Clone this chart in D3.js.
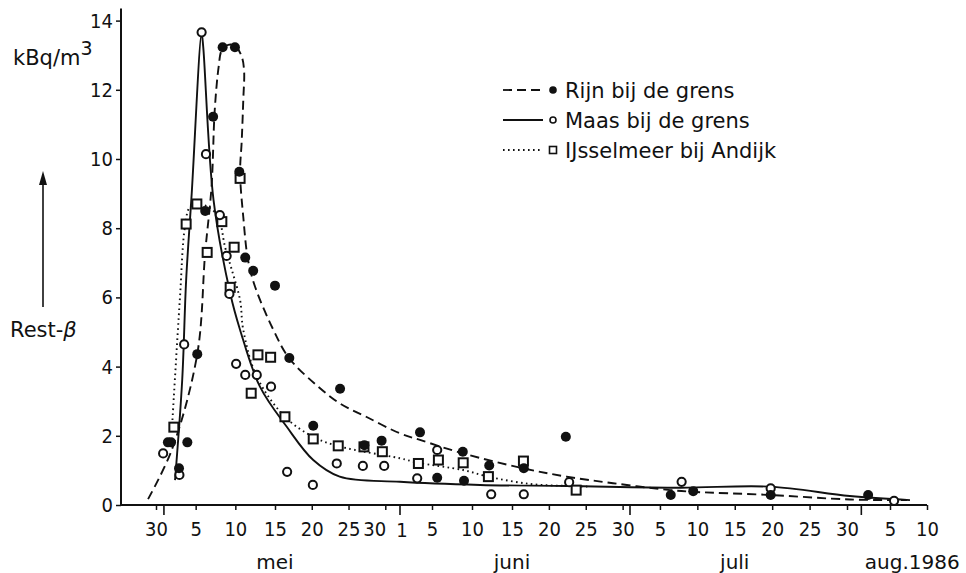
<!DOCTYPE html>
<html>
<head>
<meta charset="utf-8">
<script src="https://cdn.jsdelivr.net/npm/d3@7"></script>
<style>
  body { margin: 0; background: #fff; }
  svg text { font-family: "DejaVu Sans", sans-serif; fill: #111; }
  .tick text, .cijfer { font-family: "DejaVu Sans Condensed", "DejaVu Sans", sans-serif; font-stretch: condensed; }
</style>
</head>
<body>
<div id="chart"></div>
<script>
// dag = dagen na 30 april 1986
// Rijn bij de grens (meetpunten)
var rijnDag = [1.5, 1.9, 2.9, 3.95, 5.2, 6.2, 7.2, 8.4, 9.95, 10.5, 11.25, 12.25, 15.0, 16.95, 20.2, 23.85, 27.15, 29.5, 34.5, 36.65, 39.85, 40.0, 43.15, 47.6, 53.3, 67.45, 70.45, 80.8, 93.95];
var rijnVal = [1.81, 1.81, 1.06, 1.81, 4.36, 8.5, 11.22, 13.23, 13.23, 9.63, 7.15, 6.77, 6.34, 4.25, 2.29, 3.36, 1.73, 1.86, 2.1, 0.79, 1.54, 0.7, 1.14, 1.06, 1.97, 0.29, 0.4, 0.29, 0.29];

// Maas bij de grens
var maasDag = [0.9, 2.95, 3.55, 5.75, 6.3, 8.05, 8.9, 9.25, 10.1, 11.25, 12.7, 14.5, 16.65, 20.15, 23.4, 26.95, 29.85, 34.15, 36.65, 43.4, 47.6, 53.75, 68.9, 80.8, 97.55];
var maasVal = [1.49, 0.87, 4.64, 13.66, 10.14, 8.38, 7.2, 6.1, 4.08, 3.76, 3.76, 3.42, 0.96, 0.58, 1.2, 1.13, 1.13, 0.77, 1.59, 0.31, 0.31, 0.66, 0.67, 0.48, 0.12];

// IJsselmeer bij Andijk
var ijsselDag = [2.25, 3.8, 5.15, 6.45, 8.3, 9.35, 9.85, 10.6, 12.0, 12.85, 14.45, 16.35, 20.2, 23.6, 27.1, 29.6, 34.3, 36.8, 39.9, 43.05, 47.55, 54.7];
var ijsselVal = [2.25, 8.12, 8.7, 7.3, 8.19, 6.29, 7.45, 9.44, 3.23, 4.34, 4.27, 2.55, 1.91, 1.71, 1.68, 1.54, 1.2, 1.3, 1.22, 0.82, 1.27, 0.43];

// getekende (hand)lijnen
var rijnLijnDag = [-1.0, 2.0, 5.2, 6.2, 7.0, 7.4, 7.9, 8.3, 9.1, 10.0, 10.8, 11.1, 11.0, 10.8, 10.6, 11.0, 11.6, 12.5, 14.8, 16.9, 20.6, 23.8, 27.4, 32, 34.5, 39.9, 47.5, 53.4, 59.7, 67.4, 70.5, 80.7, 91.4, 99.3];
var rijnLijnVal = [0.17, 1.6, 4.36, 7.3, 9.2, 11.4, 12.67, 13.15, 13.3, 13.27, 12.96, 12.57, 11.7, 10.5, 9.6, 8.33, 7.08, 6.3, 5.06, 4.25, 3.47, 2.94, 2.55, 2.07, 1.88, 1.49, 1.06, 0.82, 0.63, 0.43, 0.38, 0.29, 0.16, 0.14];
var maasLijnDag = [2.4, 3.3, 3.8, 4.5, 5.75, 5.95, 7.25, 9.35, 10.6, 13.1, 16.6, 20.2, 23.8, 32, 42, 53.4, 68.7, 80.7, 91.4, 99.7];
var maasLijnVal = [0.72, 3.6, 6.5, 9.0, 13.63, 13.25, 8.82, 6.12, 5.06, 3.42, 2.26, 1.3, 0.82, 0.67, 0.58, 0.55, 0.5, 0.53, 0.26, 0.14];
var ijsselLijnDag = [2.0, 3.0, 3.65, 4.3, 5.5, 6.8, 7.85, 8.7, 9.55, 10.6, 11.0, 12.7, 16.35, 20.2, 23.85, 32, 34.3, 39.9, 43.0, 48.4, 53.4, 56.6];
var ijsselLijnVal = [2.17, 5.92, 8.04, 8.62, 8.7, 8.58, 8.33, 7.46, 6.8, 5.92, 5.06, 3.71, 2.55, 1.97, 1.69, 1.35, 1.22, 1.01, 0.82, 0.61, 0.55, 0.53];

// as-indeling
var yTicks = [0, 2, 4, 6, 8, 10, 12, 14];
var dagTicks = [0, 5, 10, 15, 20, 25, 30, 36, 41, 46, 51, 56, 61, 66, 71, 76, 81, 86, 91, 97, 102]; // elke 5 dagen
var maandTicks = [1, 32, 62, 93]; // 1 mei, 1 juni, 1 juli, 1 aug
var maanden = ["mei", "juni", "juli", "aug.1986"];
var maandDag = [15, 46, 76, 100];
var legendaNamen = ["Rijn bij de grens", "Maas bij de grens", "IJsselmeer bij Andijk"];

var width = 966, height = 573;
var start = new Date(1986, 3, 30);
function datum(d) { return new Date(start.getTime() + d * 864e5); }

var svg = d3.select("#chart").append("svg")
    .attr("width", width)
    .attr("height", height);

// de tijdas van de scan is niet helemaal lineair, dus een paar ankerpunten
var x = d3.scaleTime()
    .domain([0, 15, 32, 46, 62, 91, 97, 102].map(datum))
    .range([156, 275, 400, 512, 630, 847, 890, 927]);
var y = d3.scaleLinear().domain([0, 14]).range([505, 20.6]);

// y-as
var yAxis = svg.append("g")
    .attr("transform", "translate(121,0)")
    .call(d3.axisLeft(y).tickValues(yTicks).tickSize(5).tickPadding(3));
yAxis.select(".domain").remove();
yAxis.selectAll("line").attr("stroke", "#111").attr("stroke-width", 1.5);
yAxis.selectAll("text").style("font-size", "20px").attr("fill", "#111");

svg.append("line")
    .attr("x1", 121).attr("x2", 121)
    .attr("y1", y(0) + 1).attr("y2", y(14.35))
    .attr("stroke", "#111").attr("stroke-width", 2);

// x-as
var xAxis = svg.append("g")
    .attr("transform", "translate(0," + y(0) + ")")
    .call(d3.axisBottom(x)
        .tickValues(dagTicks.map(datum))
        .tickSize(5)
        .tickPadding(12)
        .tickFormat(d3.timeFormat("%-d")));
xAxis.select(".domain").remove();
xAxis.selectAll("line").attr("stroke", "#111").attr("stroke-width", 1.5);
xAxis.selectAll("text").style("font-size", "20px").attr("fill", "#111")
    .attr("dx", function(d) { return +d === +datum(30) ? -11 : 0; });

// 1 juni krijgt ook een label
svg.append("text")
    .attr("class", "cijfer")
    .attr("x", x(datum(32)) + 2)
    .attr("y", y(0) + 32)
    .attr("text-anchor", "middle")
    .style("font-size", "20px")
    .text("1");

svg.selectAll(".maandtick")
    .data(maandTicks)
    .enter().append("line")
    .attr("class", "maandtick")
    .attr("x1", function(d) { return x(datum(d)); })
    .attr("x2", function(d) { return x(datum(d)); })
    .attr("y1", y(0))
    .attr("y2", y(0) + 10)
    .attr("stroke", "#111").attr("stroke-width", 1.6);

svg.append("line")
    .attr("x1", 120).attr("x2", x(datum(102)))
    .attr("y1", y(0)).attr("y2", y(0))
    .attr("stroke", "#111").attr("stroke-width", 2);

svg.selectAll(".maand")
    .data(maanden)
    .enter().append("text")
    .attr("class", "maand")
    .attr("x", function(d, i) { return x(datum(maandDag[i])); })
    .attr("y", 569)
    .attr("text-anchor", "middle")
    .style("font-size", "20px")
    .text(function(d) { return d; });

// as-titels
var eenheid = svg.append("text")
    .attr("x", 13).attr("y", 65)
    .style("font-size", "21px")
    .text("kBq/m");
eenheid.append("tspan")
    .attr("dy", -10)
    .style("font-size", "19px")
    .text("3");

var rest = svg.append("text")
    .attr("x", 10).attr("y", 337)
    .style("font-size", "21px")
    .text("Rest-");
rest.append("tspan")
    .style("font-style", "italic")
    .text("\u03B2");

svg.append("line")
    .attr("x1", 43).attr("x2", 43)
    .attr("y1", 307).attr("y2", 182)
    .attr("stroke", "#111").attr("stroke-width", 1.6);
svg.append("path")
    .attr("d", "M43,171 L39,185 L47,185 Z")
    .attr("fill", "#111");

// lijnen
var lijn = d3.line()
    .x(function(d) { return x(datum(d[0])); })
    .y(function(d) { return y(d[1]); })
    .curve(d3.curveCatmullRom.alpha(0.5));

var lijnen = [
    { dag: rijnLijnDag, val: rijnLijnVal, dash: "9,5" },
    { dag: maasLijnDag, val: maasLijnVal, dash: null },
    { dag: ijsselLijnDag, val: ijsselLijnVal, dash: "1.6,3.4" }
];

svg.selectAll(".lijn")
    .data(lijnen)
    .enter().append("path")
    .attr("class", "lijn")
    .attr("d", function(d) { return lijn(d3.zip(d.dag, d.val)); })
    .attr("fill", "none")
    .attr("stroke", "#111")
    .attr("stroke-width", 1.9)
    .attr("stroke-dasharray", function(d) { return d.dash; });

// meetpunten
svg.selectAll(".ijssel")
    .data(d3.zip(ijsselDag, ijsselVal))
    .enter().append("rect")
    .attr("class", "ijssel")
    .attr("x", function(d) { return x(datum(d[0])) - 4.5; })
    .attr("y", function(d) { return y(d[1]) - 4.5; })
    .attr("width", 9).attr("height", 9)
    .attr("fill", "#fff").attr("stroke", "#111").attr("stroke-width", 2);

svg.selectAll(".maas")
    .data(d3.zip(maasDag, maasVal))
    .enter().append("circle")
    .attr("class", "maas")
    .attr("cx", function(d) { return x(datum(d[0])); })
    .attr("cy", function(d) { return y(d[1]); })
    .attr("r", 4.1)
    .attr("fill", "#fff").attr("stroke", "#111").attr("stroke-width", 2);

svg.selectAll(".rijn")
    .data(d3.zip(rijnDag, rijnVal))
    .enter().append("circle")
    .attr("class", "rijn")
    .attr("cx", function(d) { return x(datum(d[0])); })
    .attr("cy", function(d) { return y(d[1]); })
    .attr("r", 5)
    .attr("fill", "#111");

// legenda
var legenda = svg.selectAll(".legenda")
    .data(legendaNamen)
    .enter().append("g")
    .attr("class", "legenda")
    .attr("transform", function(d, i) { return "translate(503," + (90 + i * 30) + ")"; });

legenda.append("line")
    .attr("x1", 0).attr("x2", 40)
    .attr("stroke", "#111").attr("stroke-width", 1.8)
    .attr("stroke-dasharray", function(d, i) { return lijnen[i].dash; });

legenda.each(function(d, i) {
    var g = d3.select(this);
    if (i === 0) g.append("circle").attr("cx", 50).attr("r", 3.8).attr("fill", "#111");
    if (i === 1) g.append("circle").attr("cx", 50).attr("r", 3).attr("fill", "#fff")
        .attr("stroke", "#111").attr("stroke-width", 1.6);
    if (i === 2) g.append("rect").attr("x", 46.5).attr("y", -3.5).attr("width", 7).attr("height", 7)
        .attr("fill", "#fff").attr("stroke", "#111").attr("stroke-width", 1.6);
});

legenda.append("text")
    .attr("x", 62)
    .attr("dy", "0.36em")
    .style("font-size", "21px")
    .text(function(d) { return d; });
</script>
</body>
</html>
